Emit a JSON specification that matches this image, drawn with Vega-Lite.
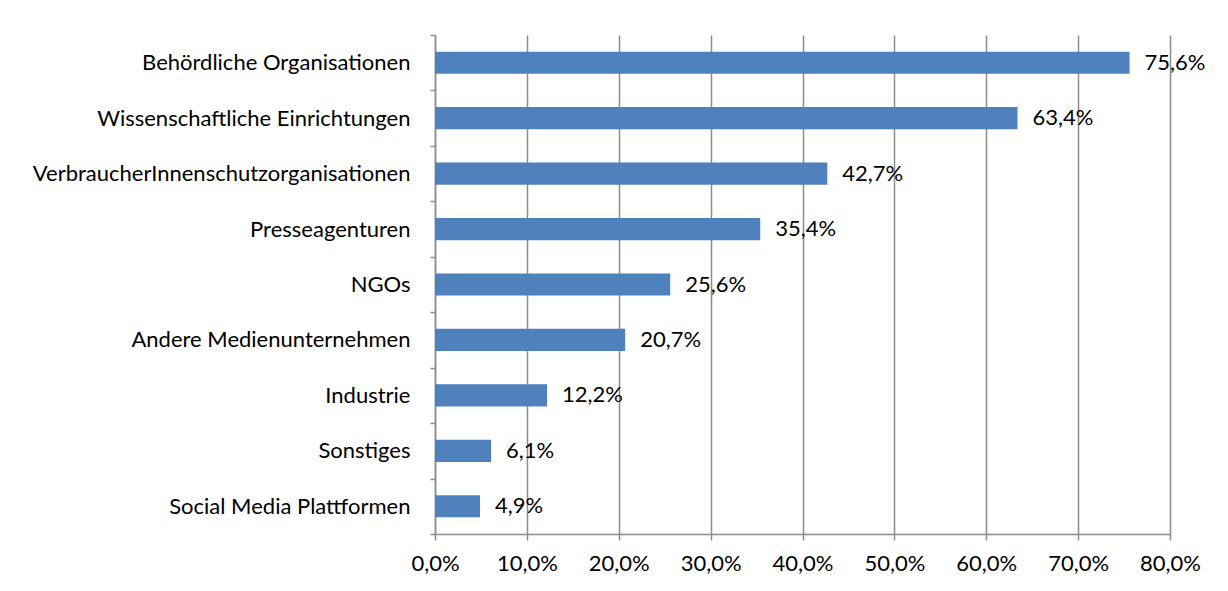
{
  "$schema": "https://vega.github.io/schema/vega-lite/v6.json",
  "width": 735,
  "height": 499,
  "autosize": "none",
  "padding": {"left": 435, "top": 35, "right": 58, "bottom": 57},
  "background": "white",
  "config": {
    "locale": {"number": {"decimal": ",", "thousands": ".", "grouping": [3], "currency": ["", " €"]}},
    "view": {"stroke": null},
    "font": "Lato"
  },
  "data": {
    "values": [
      {"kategorie": "Behördliche Organisationen", "wert": 0.756},
      {"kategorie": "Wissenschaftliche Einrichtungen", "wert": 0.634},
      {"kategorie": "VerbraucherInnenschutzorganisationen", "wert": 0.427},
      {"kategorie": "Presseagenturen", "wert": 0.354},
      {"kategorie": "NGOs", "wert": 0.256},
      {"kategorie": "Andere Medienunternehmen", "wert": 0.207},
      {"kategorie": "Industrie", "wert": 0.122},
      {"kategorie": "Sonstiges", "wert": 0.061},
      {"kategorie": "Social Media Plattformen", "wert": 0.049}
    ]
  },
  "encoding": {
    "y": {
      "field": "kategorie",
      "type": "nominal",
      "sort": null,
      "title": null,
      "scale": {"paddingInner": 0, "paddingOuter": 0},
      "axis": {
        "tickBand": "extent",
        "tickColor": "#8c8c8c",
        "tickSize": 5,
        "tickWidth": 1.5,
        "domainColor": "#8c8c8c",
        "domainWidth": 1.5,
        "labelFontSize": 22,
        "labelColor": "#000000",
        "labelPadding": 20,
        "labelLimit": 500,
        "grid": false
      }
    },
    "x": {
      "field": "wert",
      "type": "quantitative",
      "title": null,
      "scale": {"domain": [0, 0.8], "nice": false},
      "axis": {
        "format": ".1%",
        "values": [0, 0.1, 0.2, 0.3, 0.4, 0.5, 0.6, 0.7, 0.8],
        "grid": true,
        "gridColor": "#8c8c8c",
        "gridWidth": 1.5,
        "tickColor": "#8c8c8c",
        "tickSize": 6,
        "tickWidth": 1.5,
        "domainColor": "#8c8c8c",
        "domainWidth": 1.5,
        "labelFontSize": 22,
        "labelColor": "#000000",
        "labelPadding": 13,
        "labelFlush": false,
        "labelOverlap": false
      }
    }
  },
  "layer": [
    {"mark": {"type": "bar", "color": "#4F81BD", "height": {"band": 0.4}}},
    {
      "mark": {"type": "text", "align": "left", "baseline": "middle", "dx": 15, "fontSize": 22, "color": "#000000"},
      "encoding": {"text": {"field": "wert", "type": "quantitative", "format": ".1%"}}
    }
  ]
}
